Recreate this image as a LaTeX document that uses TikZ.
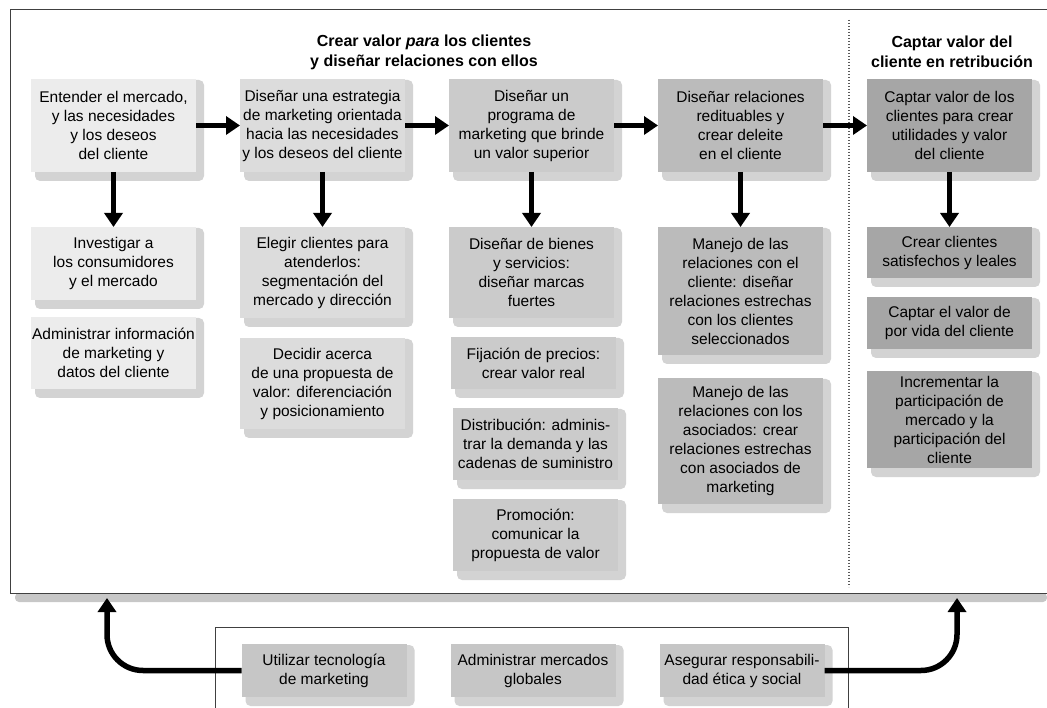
\documentclass[tikz,border=0pt]{standalone}
\usepackage{fontspec}
\setmainfont{Liberation Sans}
\usepackage{xcolor}
\usepackage{tikz}
\usetikzlibrary{arrows.meta,positioning,calc,backgrounds}

\definecolor{tonoA}{HTML}{ECECEC}
\definecolor{tonoB}{HTML}{DCDCDC}
\definecolor{tonoC}{HTML}{CBCBCB}
\definecolor{tonoD}{HTML}{BBBBBB}
\definecolor{tonoE}{HTML}{A6A6A6}
\definecolor{tonoF}{HTML}{C6C6C6}
\definecolor{sombra}{HTML}{D3D3D3}

\tikzset{
    paso/.style = {rectangle, minimum width=165pt, align=center, inner xsep=1pt, inner ysep=2pt, outer sep=0pt, font=\fontsize{15.5}{19}\selectfont},
    colA/.style = {paso, fill=tonoA},
    colB/.style = {paso, fill=tonoB},
    colC/.style = {paso, fill=tonoC},
    colD/.style = {paso, fill=tonoD},
    colE/.style = {paso, fill=tonoE},
    apoyo/.style = {paso, fill=tonoF},
    titulo/.style = {align=center, font=\bfseries\fontsize{16}{20}\selectfont},
    flujo/.style = {line width=5.5pt, -{Triangle[length=14pt,width=18pt]}},
    marco/.style = {line width=1pt, draw=black!75}
}

\begin{document}
\begin{tikzpicture}[x=1pt, y=-1pt]
    \useasboundingbox (0,0) rectangle (1047,708);

    % Marcos
    \fill[black!22, rounded corners=4pt] (15,593) rectangle (1047,602);
    \draw[marco] (1047,10) -- (10,10) -- (10,593) -- (1047,593);
    \draw[black!65, line width=1.2pt, dash pattern=on 1.2pt off 1.8pt] (849,20) -- (849,587);
    \draw[marco] (215,708) -- (215,627) -- (848,627) -- (848,708);

    % Titulos
    \node[titulo] (crear) at (424,52) {Crear valor \textit{para} los clientes\\y diseñar relaciones con ellos};
    \node[titulo] (retribucion) at (952,52) {Captar valor del\\cliente en retribución};

    % Fila principal
    \node[colA, minimum height=93pt] (entender) at (113.5,125.5) {Entender el mercado,\\y las necesidades\\y los deseos\\del cliente};
    \node[colB, minimum height=93pt, right=44pt of entender] (estrategia) {Diseñar una estrategia\\de marketing orientada\\hacia las necesidades\\y los deseos del cliente};
    \node[colC, minimum height=93pt, right=44pt of estrategia] (programa) {Diseñar un\\programa de\\marketing que brinde\\un valor superior};
    \node[colD, minimum height=93pt, right=44pt of programa] (relaciones) {Diseñar relaciones\\redituables y\\crear deleite\\en el cliente};
    \node[colE, minimum height=93pt, right=44pt of relaciones] (captar) {Captar valor de los\\clientes para crear\\utilidades y valor\\del cliente};

    % Columna 1
    \node[colA, minimum height=73pt, below=55pt of entender] (investigar) {Investigar a\\los consumidores\\y el mercado};
    \node[colA, minimum height=72pt, below=17pt of investigar] (informacion) {Administrar información\\de marketing y\\datos del cliente};

    % Columna 2
    \node[colB, minimum height=91pt, below=55pt of estrategia] (elegir) {Elegir clientes para\\atenderlos:\\segmentación del\\mercado y dirección};
    \node[colB, minimum height=91pt, below=20pt of elegir] (decidir) {Decidir acerca\\de una propuesta de\\valor: diferenciación\\y posicionamiento};

    % Columna 3
    \node[colC, minimum height=91pt, below=55pt of programa] (bienes) {Diseñar de bienes\\y servicios:\\diseñar marcas\\fuertes};
    \node[colC, minimum height=52pt, below=19pt of bienes, xshift=2pt] (precios) {Fijación de precios:\\crear valor real};
    \node[colC, minimum height=72pt, below=19pt of precios, xshift=2pt] (distribucion) {Distribución: adminis-\\trar la demanda y las\\cadenas de suministro};
    \node[colC, minimum height=72pt, below=19pt of distribucion] (promocion) {Promoción:\\comunicar la\\propuesta de valor};

    % Columna 4
    \node[colD, minimum height=128pt, below=55pt of relaciones] (manejocli) {Manejo de las\\relaciones con el\\cliente: diseñar\\relaciones estrechas\\con los clientes\\seleccionados};
    \node[colD, minimum height=126pt, below=23pt of manejocli] (manejoaso) {Manejo de las\\relaciones con los\\asociados: crear\\relaciones estrechas\\con asociados de\\marketing};

    % Columna 5
    \node[colE, minimum height=51pt, below=55pt of captar] (satisfechos) {Crear clientes\\satisfechos y leales};
    \node[colE, minimum height=52pt, below=19pt of satisfechos] (porvida) {Captar el valor de\\por vida del cliente};
    \node[colE, minimum height=97pt, below=22pt of porvida] (incrementar) {Incrementar la\\participación de\\mercado y la\\participación del\\cliente};

    % Fila de apoyo
    \node[apoyo, minimum height=53pt] (tecnologia) at (324,670.5) {Utilizar tecnología\\de marketing};
    \node[apoyo, minimum height=53pt, right=44pt of tecnologia] (mercados) {Administrar mercados\\globales};
    \node[apoyo, minimum height=53pt, right=44pt of mercados] (etica) {Asegurar responsabili-\\dad ética y social};

    % Sombras
    \begin{pgfonlayer}{background}
        \foreach \n in {entender,estrategia,programa,relaciones,captar,investigar,informacion,elegir,decidir,bienes,precios,distribucion,promocion,manejocli,manejoaso,satisfechos,porvida,incrementar,tecnologia,mercados,etica}
            \fill[sombra, rounded corners=5pt] ($(\n.north west)+(4,1)$) rectangle ($(\n.south east)+(8,9)$);
    \end{pgfonlayer}

    % Flechas
    \draw[flujo] (entender) -- (estrategia);
    \draw[flujo] (estrategia) -- (programa);
    \draw[flujo] (programa) -- (relaciones);
    \draw[flujo] (relaciones) -- (captar);
    \draw[flujo] (entender) -- (investigar);
    \draw[flujo] (estrategia) -- (elegir);
    \draw[flujo] (programa) -- (bienes);
    \draw[flujo] (relaciones) -- (manejocli);
    \draw[flujo] (captar) -- (satisfechos);

    \coordinate (izq) at (107,598);
    \coordinate (der) at (957,598);
    \draw[flujo, rounded corners=36pt] (tecnologia.west) -| (izq);
    \draw[flujo, rounded corners=36pt] (etica.east) -| (der);
\end{tikzpicture}
\end{document}
